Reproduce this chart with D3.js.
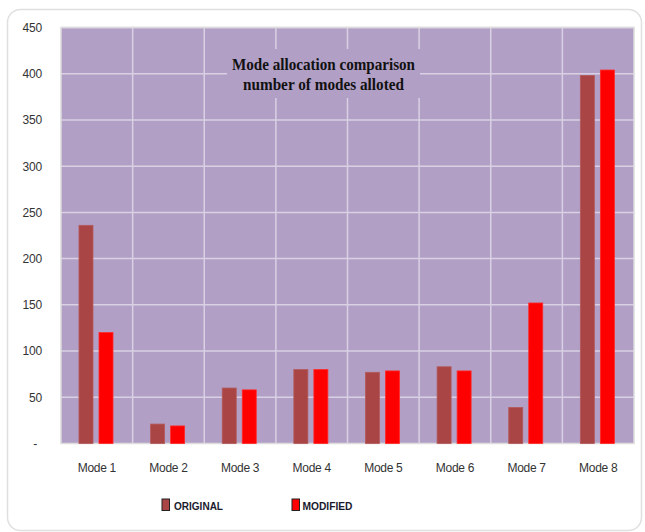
<!DOCTYPE html>
<html>
<head>
<meta charset="utf-8">
<script src="https://cdn.jsdelivr.net/npm/d3@7"></script>
<style>
  html, body { margin: 0; padding: 0; background: #ffffff; }
  svg { display: block; }
</style>
</head>
<body>
<svg id="chart" width="645" height="532"></svg>
<script>
// Number of modes allotted per mode, original vs modified scheme
const categories = ["Mode 1", "Mode 2", "Mode 3", "Mode 4", "Mode 5", "Mode 6", "Mode 7", "Mode 8"];
const seriesNames = ["ORIGINAL", "MODIFIED"];
const originalValues = [236, 21, 60, 80, 77, 83, 39, 398];
const modifiedValues = [120, 19, 58, 80, 78.5, 78.5, 152, 404];
const yTicks = [0, 50, 100, 150, 200, 250, 300, 350, 400, 450];
const titleLines = ["Mode allocation comparison", "number of modes alloted"];
const seriesColors = ["#aa4545", "#ff0000"];

const svg = d3.select("#chart");
const margin = { left: 61, right: 11, top: 27.5, bottom: 88.5 };
const W = 645, H = 532;
const plotW = W - margin.left - margin.right;
const plotH = H - margin.top - margin.bottom;
const sansFont = "'Liberation Sans', Arial, sans-serif";

// outer rounded frame
svg.append("rect")
  .attr("x", 7.5).attr("y", 9.5)
  .attr("width", 634).attr("height", 521)
  .attr("rx", 13).attr("ry", 13)
  .attr("fill", "#ffffff")
  .attr("stroke", "#e0e0e0").attr("stroke-width", 1.5);

const g = svg.append("g").attr("transform", `translate(${margin.left},${margin.top})`);

const x0 = d3.scaleBand().domain(categories).range([0, plotW]).padding(0);
const bw = x0.bandwidth();
const x1 = d3.scaleBand().domain(seriesNames)
  .range([bw * 0.251, bw * 0.726]).paddingInner(0.3).paddingOuter(0);
const y = d3.scaleLinear().domain([0, 450]).range([plotH, 0]);

// plot background
g.append("rect")
  .attr("width", plotW).attr("height", plotH)
  .attr("fill", "#b19fc6");

// horizontal gridlines
g.append("g")
  .selectAll("line")
  .data(yTicks.filter(d => d > 0))
  .join("line")
  .attr("x1", 0).attr("x2", plotW)
  .attr("y1", d => y(d)).attr("y2", d => y(d))
  .attr("stroke", "#d9d1e3").attr("stroke-width", 1.5);

// vertical gridlines between categories
g.append("g")
  .selectAll("line")
  .data(categories.slice(1))
  .join("line")
  .attr("x1", d => x0(d)).attr("x2", d => x0(d))
  .attr("y1", 0).attr("y2", plotH)
  .attr("stroke", "#d9d1e3").attr("stroke-width", 1.5);

// plot frame
g.append("rect")
  .attr("width", plotW).attr("height", plotH)
  .attr("fill", "none")
  .attr("stroke", "#dcdcdc").attr("stroke-width", 1.5);

// bars
const rows = categories.map((c, i) => ({
  cat: c,
  vals: [
    { s: seriesNames[0], v: originalValues[i], color: seriesColors[0] },
    { s: seriesNames[1], v: modifiedValues[i], color: seriesColors[1] }
  ]
}));

g.append("g")
  .selectAll("g")
  .data(rows)
  .join("g")
  .attr("transform", d => `translate(${x0(d.cat)},0)`)
  .selectAll("rect")
  .data(d => d.vals)
  .join("rect")
  .attr("x", d => x1(d.s))
  .attr("width", x1.bandwidth())
  .attr("y", d => y(d.v))
  .attr("height", d => plotH - y(d.v))
  .attr("fill", d => d.color)
  .attr("stroke", (d, i) => i === 0 ? "#b45a5a" : "#ff2a2a")
  .attr("stroke-width", 0.8);

// y axis labels
const yAxis = d3.axisLeft(y).tickValues(yTicks)
  .tickFormat(d => d === 0 ? "-" : d3.format("d")(d))
  .tickSize(0).tickPadding(0);
const yg = g.append("g").attr("transform", "translate(-19,0)").call(yAxis);
yg.select(".domain").remove();
yg.selectAll("text")
  .attr("font-family", sansFont)
  .attr("font-size", 12)
  .attr("letter-spacing", -0.2)
  .attr("fill", "#333333");
yg.selectAll(".tick").filter(d => d === 0).select("text").attr("dx", -5);

// x axis labels
const xAxis = d3.axisBottom(x0).tickSize(0).tickPadding(0);
const xg = g.append("g").attr("transform", `translate(0,${plotH + 19.5})`).call(xAxis);
xg.select(".domain").remove();
xg.selectAll("text")
  .attr("font-family", sansFont)
  .attr("font-size", 12)
  .attr("letter-spacing", -0.3)
  .attr("fill", "#333333");

// title box (masks gridlines behind the title)
const titleCx = 323.5;
const titleWidths = [183, 161];
svg.append("rect")
  .attr("x", 227).attr("y", 49)
  .attr("width", 193).attr("height", 49)
  .attr("fill", "#b19fc6");
svg.append("g")
  .selectAll("text")
  .data(titleLines)
  .join("text")
  .attr("x", (d, i) => titleCx - titleWidths[i] / 2)
  .attr("y", (d, i) => 69.5 + i * 20.5)
  .attr("textLength", (d, i) => titleWidths[i])
  .attr("lengthAdjust", "spacingAndGlyphs")
  .attr("font-family", "'Liberation Serif', 'DejaVu Serif', serif")
  .attr("font-weight", "bold")
  .attr("font-size", 16)
  .attr("fill", "#111111")
  .text(d => d);

// legend
const legendItems = [
  { name: seriesNames[0], color: seriesColors[0], x: 162, tx: 12, w: 49 },
  { name: seriesNames[1], color: seriesColors[1], x: 292, tx: 10.5, w: 50 }
];
const lg = svg.append("g").selectAll("g").data(legendItems).join("g")
  .attr("transform", d => `translate(${d.x},499)`);
lg.append("rect")
  .attr("width", 7.5).attr("height", 11.5)
  .attr("fill", d => d.color)
  .attr("stroke", "#222222").attr("stroke-width", 1);
lg.append("text")
  .attr("x", d => d.tx)
  .attr("y", 10.5)
  .attr("textLength", d => d.w)
  .attr("lengthAdjust", "spacingAndGlyphs")
  .attr("font-family", sansFont)
  .attr("font-weight", "bold")
  .attr("font-size", 11.5)
  .attr("fill", "#1a1a2e")
  .text(d => d.name);
</script>
</body>
</html>
